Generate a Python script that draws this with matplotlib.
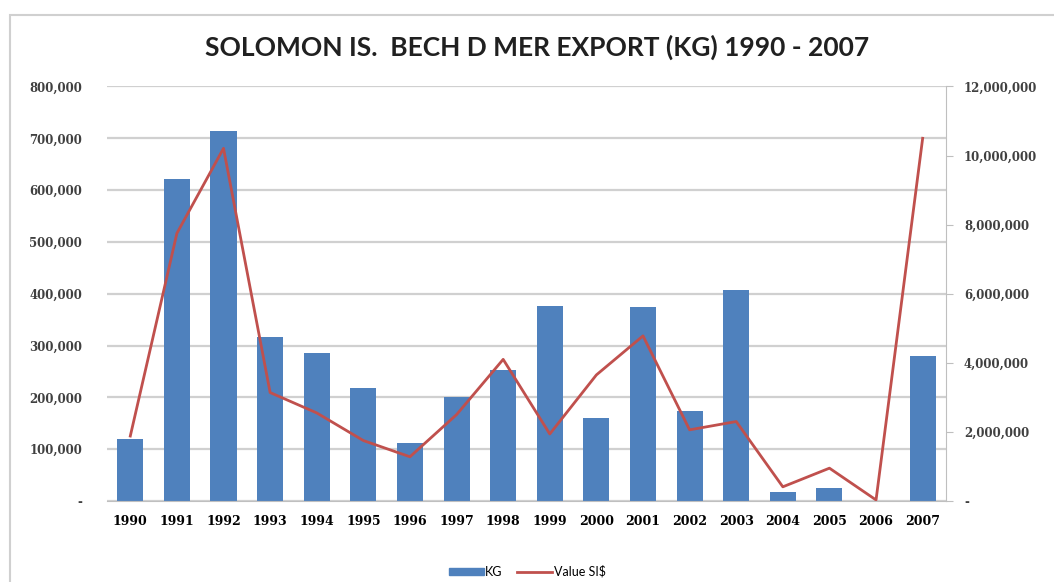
import matplotlib.pyplot as plt
import matplotlib.patches as mpatches
from matplotlib.lines import Line2D
from matplotlib.ticker import FuncFormatter
import numpy as np

years = ['1990', '1991', '1992', '1993', '1994', '1995', '1996', '1997', '1998',
         '1999', '2000', '2001', '2002', '2003', '2004', '2005', '2006', '2007']
kg = [119000, 621000, 715000, 317000, 285000, 219000, 112000, 201000, 253000,
      376000, 161000, 374000, 174000, 407000, 17000, 26000, 0, 279000]
value_sis = [1880000, 7750000, 10210000, 3140000, 2550000, 1750000, 1280000, 2500000, 4100000,
             1940000, 3650000, 4780000, 2060000, 2300000, 410000, 950000, 30000, 10500000]

bar_color = '#4F81BD'
line_color = '#C0504D'
font = 'Lato'

fig = plt.figure(figsize=(10.54, 5.82), dpi=100)
ax = fig.add_axes([0.1015, 0.1392, 0.796, 0.7122])
ax2 = ax.twinx()

x = np.arange(len(years))
ax.bar(x, kg, width=0.56, color=bar_color, zorder=2)
ax2.plot(x, value_sis, color=line_color, linewidth=2, zorder=3)

ax.set_xlim(-0.5, len(years) - 0.5)
ax.set_ylim(0, 800000)
ax2.set_ylim(0, 12000000)
ax.set_yticks(np.arange(0, 800001, 100000))
ax2.set_yticks(np.arange(0, 12000001, 2000000))

fmt = FuncFormatter(lambda v, p: '-' if v == 0 else f'{int(v):,}')
ax.yaxis.set_major_formatter(fmt)
ax2.yaxis.set_major_formatter(fmt)

ax.set_xticks(x)
ax.set_xticklabels(years)

ax.grid(axis='y', color='#D0D0D0', linewidth=1.6, zorder=0)
ax.set_axisbelow(True)

for a in (ax, ax2):
    for s in ['top', 'left', 'right']:
        a.spines[s].set_visible(False)
    a.spines['bottom'].set_color('#BFBFBF')
ax2.spines['right'].set_visible(True)
ax2.spines['right'].set_color('#BFBFBF')
ax2.spines['bottom'].set_visible(False)

ax.tick_params(axis='y', length=0, pad=18, labelcolor='#404040')
ax.tick_params(axis='x', length=0, pad=10)
ax2.tick_params(axis='y', length=5, color='#BFBFBF', pad=8, labelcolor='#404040')

for lab in ax.get_yticklabels() + ax2.get_yticklabels():
    lab.set_fontweight('bold')
    lab.set_family('DejaVu Serif')
    lab.set_fontsize(8.5)
for lab in ax.get_xticklabels():
    lab.set_fontweight('bold')
    lab.set_family('DejaVu Serif')
    lab.set_fontsize(9)

fig.text(0.51, 0.919, 'SOLOMON IS.  BECH D MER EXPORT (KG) 1990 - 2007',
         ha='center', va='center', fontsize=19, fontweight='bold', family=font, color='#202020')

handles = [mpatches.Patch(color=bar_color, label='KG'),
           Line2D([0], [0], color=line_color, linewidth=2, label='Value SI$')]
fig.legend(handles=handles, loc='center', bbox_to_anchor=(0.5, 0.018), ncol=2,
           frameon=False, handlelength=2.8, handleheight=0.5,
           columnspacing=1.2, handletextpad=0.1, prop={'family': font, 'size': 9})

fig.patches.append(mpatches.Rectangle((0.0095, -0.05), 1.2, 1.025, transform=fig.transFigure,
                                      fill=False, edgecolor='#D0D0D0', linewidth=1.5))

fig.savefig('out.png', dpi=100)
